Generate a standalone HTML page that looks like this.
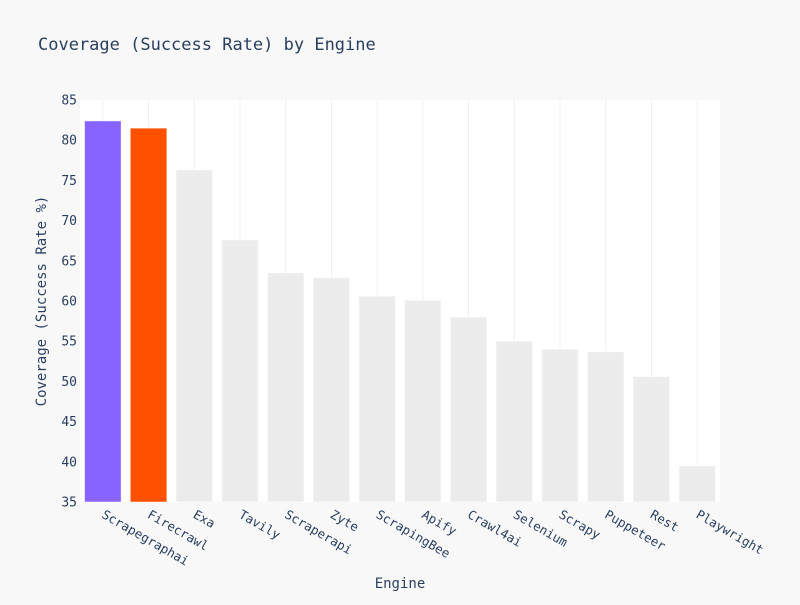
<!DOCTYPE html>
<html><head><meta charset="utf-8"><style>
body{margin:0;background:#f8f8f8;}
svg text{font-family:"DejaVu Sans Mono","Liberation Mono",monospace;fill:#2a3f5f;}
</style></head><body>
<svg width="800" height="600" xmlns="http://www.w3.org/2000/svg">
<rect width="800" height="600" fill="#f8f8f8"/>
<text x="38" y="50" font-size="17">Coverage (Success Rate) by Engine</text>
<rect x="80" y="100" width="640" height="402" fill="#ffffff"/>
<g id="grid"></g><g id="bars"></g><g id="yticks"></g><g id="xticks"></g>
<text x="400" y="588" font-size="14" text-anchor="middle">Engine</text>
<text transform="translate(46,301) rotate(-90)" font-size="14" text-anchor="middle">Coverage (Success Rate %)</text>
</svg>
<script>
const categories=["Scrapegraphai","Firecrawl","Exa","Tavily","Scraperapi","Zyte","ScrapingBee","Apify","Crawl4ai","Selenium","Scrapy","Puppeteer","Rest","Playwright"];
const values=[82.4,81.5,76.3,67.6,63.5,62.9,60.6,60.1,58.0,55.0,54.0,53.7,50.6,39.5];
const barColors=["#8763ff","#ff5000","#ececec","#ececec","#ececec","#ececec","#ececec","#ececec","#ececec","#ececec","#ececec","#ececec","#ececec","#ececec"];
const yTicks=[35,40,45,50,55,60,65,70,75,80,85];
const NS="http://www.w3.org/2000/svg";
const x0=80,pw=640,y0=100,ph=402,ymin=35,ymax=85;
const band=pw/categories.length;
const y=v=>y0+ph*(ymax-v)/(ymax-ymin);
const xc=i=>x0+band*(i+0.5);
function mk(t,a,p){const e=document.createElementNS(NS,t);for(const k in a)e.setAttribute(k,a[k]);document.getElementById(p).appendChild(e);return e;}
categories.forEach((c,i)=>{
  const g=mk("line",{x1:xc(i),x2:xc(i),y1:y0,y2:y0+ph,stroke:"#f0f0f0","stroke-width":1},"grid");
  
  
  const bw=band*0.8;
  const r=mk("rect",{x:xc(i)-bw/2,y:y(values[i]),width:bw,height:y(ymin)-y(values[i]),fill:barColors[i],stroke:"rgba(255,255,255,0.5)","stroke-width":1},"bars");
  
  
  const t=mk("text",{x:xc(i)-2,y:517,"font-size":12.5,transform:`rotate(30 ${xc(i)-2} 517)`},"xticks");
  t.textContent=c;
  
  
});
yTicks.forEach(v=>{
  const t=mk("text",{x:77,y:y(v)+4.5,"font-size":13,"text-anchor":"end"},"yticks");
  t.textContent=v;
  
  
});
</script>
</body></html>
